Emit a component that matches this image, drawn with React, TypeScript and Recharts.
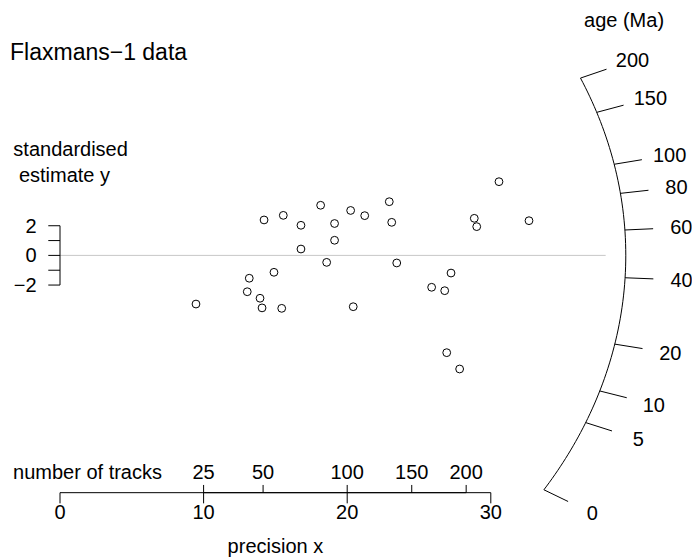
import { ScatterChart, Scatter, XAxis, YAxis, ReferenceLine } from 'recharts';

// precision x (= 1/s) and standardised estimate y of the 30 grains
const precisionX = [
  9.47, 14.21, 15.55, 18.15, 20.24, 16.78, 19.12, 19.12, 16.78, 18.57,
  14.9, 13.18, 13.04, 13.93, 14.07, 15.44, 20.42, 21.22, 22.93, 23.1,
  23.45, 30.57, 28.85, 29.02, 32.66, 27.23, 25.88, 26.79, 26.93, 27.83,
];
const standardY = [
  -3.28, 2.39, 2.7, 3.38, 3.03, 2.03, 2.15, 1.02, 0.43, -0.47,
  -1.14, -1.54, -2.45, -2.89, -3.54, -3.57, -3.46, 2.68, 3.62, 2.23,
  -0.51, 4.97, 2.5, 1.94, 2.34, -1.19, -2.15, -2.38, -6.56, -7.66,
];

const yTicks = [-2, -1, 0, 1, 2];
const yTickLabels = ['2', '0', '−2'];
const precisionTicks = [0, 10, 20, 30];
const trackTicks = [25, 50, 100, 150, 200];
const ageTicks = [0, 5, 10, 20, 40, 60, 80, 100, 150, 200];

const title = 'Flaxmans−1 data';
const FONT = '"Liberation Sans", Arial, Helvetica, sans-serif';

// radial scale: age = ZETA * tan(z)^2, central value Z0, arc drawn on an ellipse
const ZETA = 189.5;
const Z0 = 0.469;
const ARC_A = 39.4;
const ARC_B = 30.5;

const ageToZ = (t: number) => Math.atan(Math.sqrt(t / ZETA));
const arcAtZ = (z: number, k = 1) => {
  const m = z - Z0;
  const x = 1 / Math.sqrt(1 / (ARC_A * ARC_A) + (m * m) / (ARC_B * ARC_B));
  return { x: k * x, y: k * m * x };
};
const tracksToX = (n: number) => 2 * Math.sqrt(n);

const points = precisionX.map((x, i) => ({ x, y: standardY[i] }));

const zMax = ageToZ(ageTicks[ageTicks.length - 1]);
const arc = Array.from({ length: 81 }, (_, i) => arcAtZ((zMax * i) / 80));

const AXIS_Y = -16;

type Lbl = { x: number; y: number; text: string; anchor: string; size: number };
const labels: Lbl[] = [
  { x: -3.48, y: 13.72, text: title, anchor: 'start', size: 23 },
  { x: -3.25, y: 7.2, text: 'standardised', anchor: 'start', size: 20 },
  { x: -3.25, y: 5.45, text: '\u00a0estimate y', anchor: 'start', size: 20 },
  ...[2, 0, -2].map((v, i) => ({ x: -1.63, y: v, text: yTickLabels[i], anchor: 'end', size: 20 })),
  { x: -3.27, y: -14.61, text: 'number of tracks', anchor: 'start', size: 20 },
  ...trackTicks.map((n) => ({ x: tracksToX(n), y: -14.61, text: String(n), anchor: 'middle', size: 20 })),
  ...precisionTicks.map((v) => ({ x: v, y: -17.3, text: String(v), anchor: 'middle', size: 20 })),
  { x: 15, y: -19.6, text: 'precision x', anchor: 'middle', size: 20 },
  { x: 39.28, y: 15.87, text: 'age (Ma)', anchor: 'middle', size: 20 },
  ...ageTicks.map((t) => ({ ...arcAtZ(ageToZ(t), 1.1), text: String(t), anchor: 'middle', size: 20 })),
];

const TextShape = (props: any) => {
  const { cx, cy, payload } = props;
  return (
    <text
      x={cx}
      y={cy}
      textAnchor={payload.anchor}
      dominantBaseline="central"
      fontSize={payload.size}
      fontFamily={FONT}
      fill="#000"
    >
      {payload.text}
    </text>
  );
};

const NoShape = () => <g />;

export default function App() {
  return (
    <div style={{ position: 'absolute', left: 0, top: 0, width: 699, height: 560, background: '#fff' }}>
      <ScatterChart width={699} height={560} margin={{ top: 3.29, right: 7.16, bottom: 0, left: 2.56 }}>
        <XAxis type="number" dataKey="x" domain={[-4, 44]} hide allowDataOverflow />
        <YAxis type="number" dataKey="y" domain={[-20.54, 17]} hide allowDataOverflow />

        {/* central line */}
        <ReferenceLine segment={[{ x: 0, y: 0 }, { x: 38, y: 0 }]} stroke="#c8c8c8" strokeWidth={1} />

        {/* standardised estimate axis */}
        <ReferenceLine segment={[{ x: 0, y: -2 }, { x: 0, y: 2 }]} stroke="#000" />
        {yTicks.map((v) => (
          <ReferenceLine key={`yt${v}`} segment={[{ x: -0.815, y: v }, { x: 0, y: v }]} stroke="#000" />
        ))}

        {/* precision axis */}
        <ReferenceLine segment={[{ x: 0, y: AXIS_Y }, { x: 30, y: AXIS_Y }]} stroke="#000" />
        {precisionTicks.map((v) => (
          <ReferenceLine key={`px${v}`} segment={[{ x: v, y: AXIS_Y }, { x: v, y: AXIS_Y - 0.72 }]} stroke="#000" />
        ))}

        {/* number of tracks axis */}
        <ReferenceLine
          segment={[{ x: tracksToX(trackTicks[0]), y: AXIS_Y }, { x: tracksToX(trackTicks[trackTicks.length - 1]), y: AXIS_Y }]}
          stroke="#000"
        />
        {trackTicks.map((n) => (
          <ReferenceLine
            key={`tr${n}`}
            segment={[{ x: tracksToX(n), y: AXIS_Y }, { x: tracksToX(n), y: AXIS_Y + 0.52 }]}
            stroke="#000"
          />
        ))}

        {/* age arc */}
        <Scatter data={arc} line={{ stroke: '#000', strokeWidth: 1 }} shape={NoShape} isAnimationActive={false} />
        {ageTicks.map((t) => {
          const z = ageToZ(t);
          return <ReferenceLine key={`age${t}`} segment={[arcAtZ(z, 1), arcAtZ(z, 1.05)]} stroke="#000" />;
        })}

        <Scatter data={points} fill="none" stroke="#000" strokeWidth={1} shape={(p: any) => (
          <circle cx={p.cx} cy={p.cy} r={3.9} fill="none" stroke="#000" strokeWidth={1} />
        )} isAnimationActive={false} />

        <Scatter data={labels} shape={TextShape} isAnimationActive={false} />
      </ScatterChart>
    </div>
  );
}
